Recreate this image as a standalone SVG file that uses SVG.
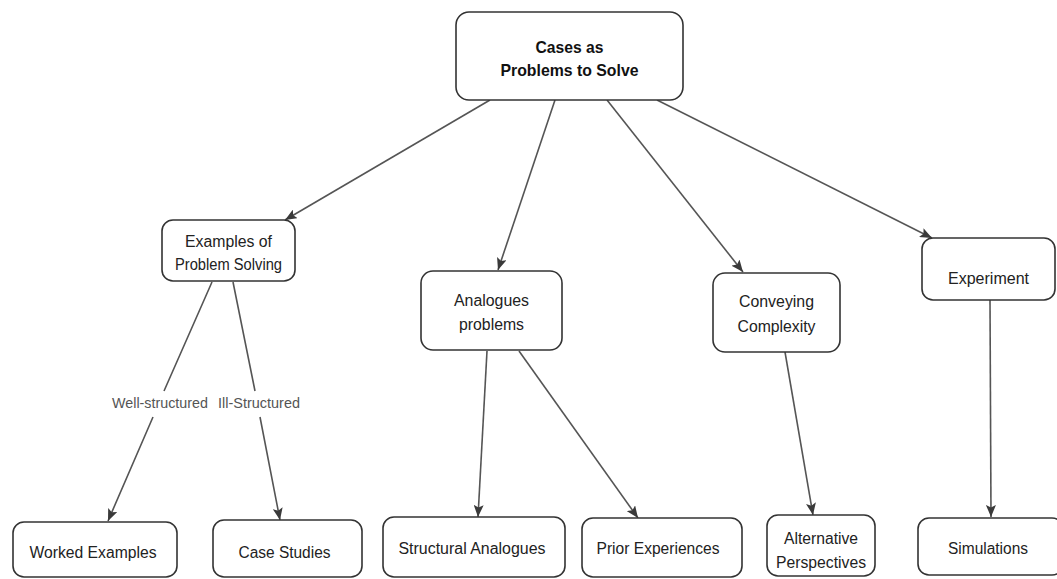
<svg xmlns="http://www.w3.org/2000/svg" width="1057" height="579" viewBox="0 0 1057 579">
<defs>
<marker id="arr" viewBox="0 0 12 10" refX="12" refY="5" markerWidth="12" markerHeight="10" markerUnits="userSpaceOnUse" orient="auto">
<path d="M0,0 L12,5 L0,10 L2.5,5 z" fill="#3a3a3a"/>
</marker>
<style>
.box{fill:#fff;stroke:#333;stroke-width:1.6}
.t{font-family:"Liberation Sans",Arial,sans-serif;font-size:16px;fill:#222;text-anchor:middle}
.b{font-weight:bold;font-size:17px;fill:#111}
.lbl{font-family:"Liberation Sans",Arial,sans-serif;font-size:15px;fill:#555;text-anchor:middle}
.c{fill:none;stroke:#555;stroke-width:1.6}
</style>
</defs>
<rect width="1057" height="579" fill="#fff"/>
<g id="connectors">
<path class="c" d="M490,100 L285,220" marker-end="url(#arr)"/>
<path class="c" d="M555,100 L498,270" marker-end="url(#arr)"/>
<path class="c" d="M607,100 L743,272" marker-end="url(#arr)"/>
<path class="c" d="M657,100 L932,238" marker-end="url(#arr)"/>
<path class="c" d="M212,282 L164,391 M153,417 L108,521" marker-end="url(#arr)"/>
<path class="c" d="M233,282 L255,391 M260,417 L280,520" marker-end="url(#arr)"/>
<path class="c" d="M487,351 L478,517" marker-end="url(#arr)"/>
<path class="c" d="M519,351 L638,518" marker-end="url(#arr)"/>
<path class="c" d="M785,352 L813,515" marker-end="url(#arr)"/>
<path class="c" d="M990,300 L991,517" marker-end="url(#arr)"/>
<text class="lbl" x="160" y="408" textLength="96" lengthAdjust="spacingAndGlyphs">Well-structured</text>
<text class="lbl" x="259" y="408" textLength="82" lengthAdjust="spacingAndGlyphs">Ill-Structured</text>
</g>
<g id="n-root">
<rect class="box" x="456" y="12" width="227" height="88" rx="13"/>
<text class="t b" x="569.5" y="53" textLength="68" lengthAdjust="spacingAndGlyphs">Cases as</text>
<text class="t b" x="569.5" y="76" textLength="138" lengthAdjust="spacingAndGlyphs">Problems to Solve</text>
</g>
<g id="n-examples">
<rect class="box" x="162" y="220" width="133" height="61" rx="11"/>
<text class="t" x="228.5" y="247" textLength="87" lengthAdjust="spacingAndGlyphs">Examples of</text>
<text class="t" x="228.5" y="270" textLength="107" lengthAdjust="spacingAndGlyphs">Problem Solving</text>
</g>
<g id="n-analogues">
<rect class="box" x="421" y="271" width="141" height="79" rx="12"/>
<text class="t" x="491.5" y="306" textLength="75" lengthAdjust="spacingAndGlyphs">Analogues</text>
<text class="t" x="491.5" y="330" textLength="65" lengthAdjust="spacingAndGlyphs">problems</text>
</g>
<g id="n-conveying">
<rect class="box" x="713" y="273" width="127" height="79" rx="12"/>
<text class="t" x="776.5" y="307" textLength="75" lengthAdjust="spacingAndGlyphs">Conveying</text>
<text class="t" x="776.5" y="332" textLength="78" lengthAdjust="spacingAndGlyphs">Complexity</text>
</g>
<g id="n-experiment">
<rect class="box" x="922" y="238" width="133" height="62" rx="11"/>
<text class="t" x="988.5" y="284" textLength="81" lengthAdjust="spacingAndGlyphs">Experiment</text>
</g>
<g id="n-worked">
<rect class="box" x="13" y="522" width="164" height="55" rx="11"/>
<text class="t" x="93" y="558" textLength="127" lengthAdjust="spacingAndGlyphs">Worked Examples</text>
</g>
<g id="n-case">
<rect class="box" x="213" y="520" width="149" height="57" rx="11"/>
<text class="t" x="284.5" y="558" textLength="92" lengthAdjust="spacingAndGlyphs">Case Studies</text>
</g>
<g id="n-structural">
<rect class="box" x="383" y="517" width="182" height="60" rx="11"/>
<text class="t" x="472" y="554" textLength="147" lengthAdjust="spacingAndGlyphs">Structural Analogues</text>
</g>
<g id="n-prior">
<rect class="box" x="582" y="518" width="160" height="59" rx="11"/>
<text class="t" x="658" y="554" textLength="123" lengthAdjust="spacingAndGlyphs">Prior Experiences</text>
</g>
<g id="n-alternative">
<rect class="box" x="767" y="515" width="108" height="61" rx="11"/>
<text class="t" x="821" y="544" textLength="74" lengthAdjust="spacingAndGlyphs">Alternative</text>
<text class="t" x="821" y="568" textLength="90" lengthAdjust="spacingAndGlyphs">Perspectives</text>
</g>
<g id="n-simulations">
<rect class="box" x="918" y="518" width="145" height="57" rx="11"/>
<text class="t" x="988" y="554" textLength="80" lengthAdjust="spacingAndGlyphs">Simulations</text>
</g>
</svg>
